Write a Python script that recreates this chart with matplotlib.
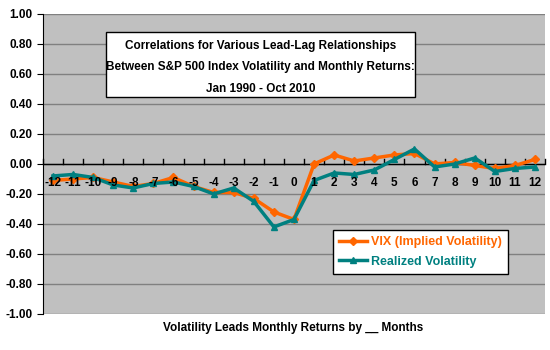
import numpy as np
import matplotlib
matplotlib.use("Agg")
import matplotlib.pyplot as plt
from matplotlib.patches import Rectangle

plt.rcParams['font.family'] = ['Liberation Sans', 'DejaVu Sans']
plt.rcParams['font.weight'] = 'bold'

# lead-lag months
months = list(range(-12, 13))
vix = [-0.11, -0.10, -0.09, -0.12, -0.15, -0.13, -0.09, -0.15, -0.19, -0.19, -0.23, -0.32, -0.37,
       0.00, 0.06, 0.02, 0.04, 0.06, 0.07, 0.00, 0.01, -0.01, -0.03, -0.01, 0.03]
realized = [-0.08, -0.07, -0.09, -0.14, -0.16, -0.13, -0.12, -0.15, -0.20, -0.16, -0.25, -0.42, -0.37,
            -0.11, -0.06, -0.07, -0.04, 0.03, 0.10, -0.02, 0.00, 0.04, -0.05, -0.03, -0.02]
yticks = [-1.0, -0.8, -0.6, -0.4, -0.2, 0.0, 0.2, 0.4, 0.6, 0.8, 1.0]

fig = plt.figure(figsize=(5.5, 3.5), dpi=100)
ax = fig.add_axes([0.078, 0.103, 0.913, 0.857])
ax.set_facecolor('#C0C0C0')

x = np.arange(len(months))
ax.plot(x, vix, color='#FF6600', lw=2.5, marker='D', ms=4, label='VIX (Implied Volatility)', zorder=3)
ax.plot(x, realized, color='#008080', lw=2.5, marker='^', ms=5, label='Realized Volatility', zorder=4)

ax.set_xlim(-0.5, len(months) - 0.5)
ax.set_ylim(-1.0, 1.0)
ax.set_yticks(yticks)
ax.set_yticklabels(['%.2f' % v for v in yticks], fontsize=8.5, fontweight='bold')
ax.yaxis.grid(True, color='#808080', lw=1)
ax.set_axisbelow(True)

for s in ['top', 'right', 'bottom']:
    ax.spines[s].set_visible(False)
ax.spines['left'].set_color('black')
ax.axhline(0, color='black', lw=1, zorder=2)
ax.tick_params(axis='y', length=4, direction='out', color='black')

# x axis crosses at 0, labels just below it
ax.set_xticks([])
for xi, m in zip(x, months):
    ax.text(xi, -0.125, str(m), ha='center', va='center', fontsize=8.5, fontweight='bold', zorder=5)
for b in np.arange(-0.5, len(months), 1.0):
    ax.plot([b, b], [0, 0.03], color='black', lw=1, zorder=2, clip_on=False)

fig.text(0.533, 0.063, 'Volatility Leads Monthly Returns by __ Months', ha='center', va='center',
         fontsize=8.5, fontweight='bold')

# title box
ax.add_patch(Rectangle((0.1255, 0.723), 0.6155, 0.217, transform=ax.transAxes,
                       fc='white', ec='black', lw=1, zorder=6))
ax.text(0.433, 0.823, 'Correlations for Various Lead-Lag Relationships\n'
        'Between S&P 500 Index Volatility and Monthly Returns:\n'
        'Jan 1990 - Oct 2010', transform=ax.transAxes, ha='center', va='center',
        fontsize=8.5, fontweight='bold', linespacing=2.05, zorder=7)

leg = ax.legend(loc='lower left', bbox_to_anchor=(0.578, 0.133), frameon=True, fancybox=False,
                edgecolor='black', framealpha=1, fontsize=9, handlelength=2.2, handletextpad=0.3,
                borderpad=0.5, labelspacing=0.6, borderaxespad=0)
for t, c in zip(leg.get_texts(), ['#FF6600', '#008080']):
    t.set_color(c)
    t.set_fontweight('bold')
leg.get_frame().set_linewidth(1)
leg.set_zorder(6)

fig.savefig('out.png', dpi=100)
